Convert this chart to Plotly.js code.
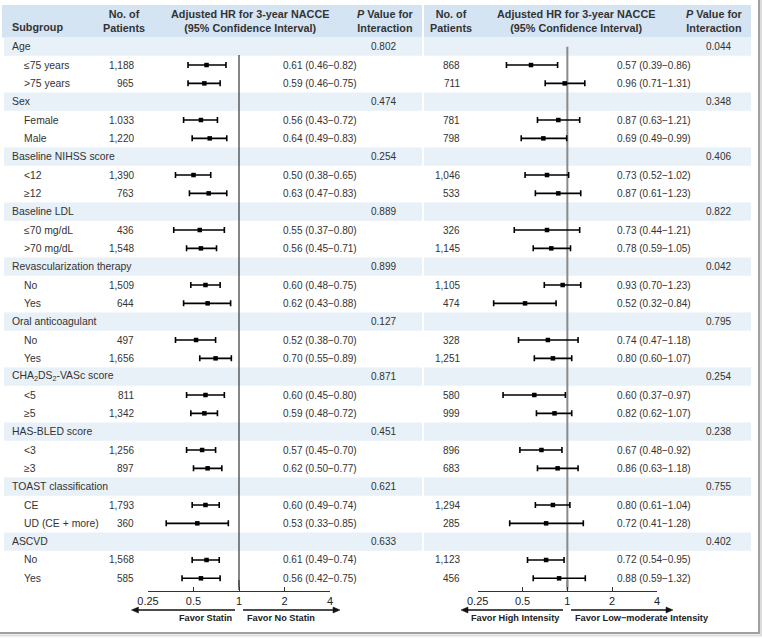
<!DOCTYPE html>
<html>
<head>
<meta charset="utf-8">
<script src="https://cdn.plot.ly/plotly-3.0.1.min.js"></script>
<style>html,body{margin:0;padding:0;background:#fff;}#chart{width:762px;height:639px;}</style>
</head>
<body>
<div id="chart"></div>
<script>
// ---------- DATA ----------
const groups = ["Age","Sex","Baseline NIHSS score","Baseline LDL","Revascularization therapy","Oral anticoagulant","CHA<sub>2</sub>DS<sub>2</sub>-VASc score","HAS-BLED score","TOAST classification","ASCVD"];
const subgroups = [["≤75 years",">75 years"],["Female","Male"],["<12","≥12"],["≤70 mg/dL",">70 mg/dL"],["No","Yes"],["No","Yes"],["<5","≥5"],["<3","≥3"],["CE","UD (CE + more)"],["No","Yes"]];

// Statin vs No Statin
const nStatin  = ["1,188","965","1.033","1,220","1,390","763","436","1,548","1,509","644","497","1,656","811","1,342","1,256","897","1,793","360","1,568","585"];
const hrStatin = [0.61,0.59,0.56,0.64,0.50,0.63,0.55,0.56,0.60,0.62,0.52,0.70,0.60,0.59,0.57,0.62,0.60,0.53,0.61,0.56];
const loStatin = [0.46,0.46,0.43,0.49,0.38,0.47,0.37,0.45,0.48,0.43,0.38,0.55,0.45,0.48,0.45,0.50,0.49,0.33,0.49,0.42];
const hiStatin = [0.82,0.75,0.72,0.83,0.65,0.83,0.80,0.71,0.75,0.88,0.70,0.89,0.80,0.72,0.70,0.77,0.74,0.85,0.74,0.75];
const pStatin  = ["0.802","0.474","0.254","0.889","0.899","0.127","0.871","0.451","0.621","0.633"];

// High vs Low-moderate intensity
const nInt  = ["868","711","781","798","1,046","533","326","1,145","1,105","474","328","1,251","580","999","896","683","1,294","285","1,123","456"];
const hrInt = [0.57,0.96,0.87,0.69,0.73,0.87,0.73,0.78,0.93,0.52,0.74,0.80,0.60,0.82,0.67,0.86,0.80,0.72,0.72,0.88];
const loInt = [0.39,0.71,0.63,0.49,0.52,0.61,0.44,0.59,0.70,0.32,0.47,0.60,0.37,0.62,0.48,0.63,0.61,0.41,0.54,0.59];
const hiInt = [0.86,1.31,1.21,0.99,1.02,1.23,1.21,1.05,1.23,0.84,1.18,1.07,0.97,1.07,0.92,1.18,1.04,1.28,0.95,1.32];
const pInt  = ["0.044","0.348","0.406","0.822","0.042","0.795","0.254","0.238","0.755","0.402"];

const tickVals = [0.25,0.5,1,2,4];
const tickText = ["0.25","0.5","1","2","4"];

// ---------- LAYOUT HELPERS ----------
const W = 762, H = 639;
const px = x => x / W;
const py = y => 1 - y / H;
const FONT = "Liberation Sans, Arial, Helvetica, sans-serif";
const TXT = "#333";
const LBL = 10.4, NUM = 10;

const subRows = [];
groups.forEach((g, i) => { subRows.push(3*i+1, 3*i+2); });

function ciText(h, l, u) { return h.toFixed(2) + " (" + l.toFixed(2) + "−" + u.toFixed(2) + ")"; }

function forestTrace(hr, lo, hi, xa) {
  return {
    type: "scatter", mode: "markers", xaxis: xa, yaxis: "y",
    x: hr, y: subRows,
    marker: {symbol: "square", size: 4.5, color: "#000"},
    error_x: {type: "data", symmetric: false,
      array: hr.map((v, i) => hi[i] - v),
      arrayminus: hr.map((v, i) => v - lo[i]),
      color: "#000", thickness: 1.6, width: 3},
    hoverinfo: "skip", cliponaxis: false
  };
}

const annotations = [];
function ann(text, x, y, xanchor, size) {
  annotations.push({
    text: text, x: px(x), y: y, xref: "paper", yref: "y",
    xanchor: xanchor, yanchor: "middle", showarrow: false,
    font: {family: FONT, size: size, color: TXT}
  });
}

// table text
groups.forEach((g, i) => {
  ann(g, 10, 3*i, "left", LBL);
  ann(pStatin[i], 383.5, 3*i, "center", NUM);
  ann(pInt[i], 718.5, 3*i, "center", NUM);
  subgroups[i].forEach((s, j) => {
    const k = 2*i + j, r = 3*i + 1 + j;
    ann(s, 22, r, "left", LBL);
    ann(nStatin[k], 136, r, "right", NUM);
    ann(ciText(hrStatin[k], loStatin[k], hiStatin[k]), 359, r, "right", NUM);
    ann(nInt[k], 462, r, "right", NUM);
    ann(ciText(hrInt[k], loInt[k], hiInt[k]), 693, r, "right", NUM);
  });
});

// Headers
function hdr(text, x, y, xanchor) {
  annotations.push({text: "<b>" + text + "</b>", x: px(x), y: py(y), xref: "paper", yref: "paper",
    xanchor: xanchor, yanchor: "middle", showarrow: false, align: "center",
    font: {family: FONT, size: 10.8, color: TXT}});
}
hdr("Subgroup", 10, 27.5, "left");
hdr("No. of<br>Patients", 124.5, 21, "center");
hdr("Adjusted HR for 3-year NACCE<br>(95% Confidence Interval)", 250, 21, "center");
hdr("<i>P</i> Value for<br>Interaction", 386, 21, "center");
hdr("No. of<br>Patients", 451, 21, "center");
hdr("Adjusted HR for 3-year NACCE<br>(95% Confidence Interval)", 576, 21, "center");
hdr("<i>P</i> Value for<br>Interaction", 714, 21, "center");

// Favor labels
function fav(text, x, xanchor) {
  annotations.push({text: "<b>" + text + "</b>", x: px(x), y: py(618), xref: "paper", yref: "paper",
    xanchor: xanchor, yanchor: "middle", showarrow: false,
    font: {family: FONT, size: 9.2, color: "#222"}});
}
fav("Favor Statin", 234, "right");
fav("Favor No Statin", 245, "left");
fav("Favor High Intensity", 562, "right");
fav("Favor Low−moderate Intensity", 573, "left");

// ---------- SHAPES ----------
const shapes = [];
const HEAD = "#d4e4f3", BAND = "#e8f0f8";
shapes.push({type: "rect", xref: "paper", yref: "paper", x0: px(2), x1: px(422), y0: py(37.5), y1: py(5), fillcolor: HEAD, line: {width: 0}, layer: "below"});
shapes.push({type: "rect", xref: "paper", yref: "paper", x0: px(424), x1: px(751), y0: py(37.5), y1: py(5), fillcolor: HEAD, line: {width: 0}, layer: "below"});
groups.forEach((g, i) => {
  shapes.push({type: "rect", xref: "paper", yref: "y", x0: px(4), x1: px(422), y0: 3*i-0.5, y1: 3*i+0.5, fillcolor: BAND, line: {width: 0}, layer: "below"});
  shapes.push({type: "rect", xref: "paper", yref: "y", x0: px(424), x1: px(751), y0: 3*i-0.5, y1: 3*i+0.5, fillcolor: BAND, line: {width: 0}, layer: "below"});
});
const AXPOS = py(591);
shapes.push({type: "line", xref: "x", yref: "y", x0: 1, x1: 1, y0: 0.45, y1: 29.5, line: {color: "#444", width: 1.3}, layer: "below"});
shapes.push({type: "line", xref: "x", yref: "paper", x0: 1, x1: 1, y0: py(590), y1: py(580), line: {color: "#444", width: 1.3}, layer: "below"});
shapes.push({type: "line", xref: "x2", yref: "y", x0: 1, x1: 1, y0: 0, y1: 29.5, line: {color: "#8a8a8a", width: 2}, layer: "below"});
shapes.push({type: "line", xref: "x2", yref: "paper", x0: 1, x1: 1, y0: py(590), y1: py(580), line: {color: "#8a8a8a", width: 2}, layer: "below"});

function arrow(tail, head, y) {
  const dir = head < tail ? -1 : 1;
  const base = head - dir * 7;
  shapes.push({type: "line", xref: "paper", yref: "paper", x0: px(tail), x1: px(base), y0: py(y), y1: py(y), line: {color: "#111", width: 1.5}});
  shapes.push({type: "path", xref: "paper", yref: "paper",
    path: "M " + px(head) + " " + py(y) + " L " + px(base) + " " + py(y-3) + " L " + px(base) + " " + py(y+3) + " Z",
    fillcolor: "#111", line: {color: "#111", width: 0.5}});
}
arrow(235, 131.5, 610);
arrow(243, 340, 610);
arrow(563, 461, 610);
arrow(571, 673, 610);

shapes.push({type: "line", xref: "paper", yref: "paper", x0: px(759), x1: px(759), y0: py(0), y1: py(633), line: {color: "#a0a0a0", width: 2}});
shapes.push({type: "line", xref: "paper", yref: "paper", x0: px(0), x1: px(760), y0: py(633), y1: py(633), line: {color: "#a0a0a0", width: 2}});
shapes.push({type: "line", xref: "paper", yref: "paper", x0: px(0), x1: px(762), y0: py(635.5), y1: py(635.5), line: {color: "#dcdcdc", width: 2}});
shapes.push({type: "line", xref: "paper", yref: "paper", x0: px(761), x1: px(761), y0: py(0), y1: py(636), line: {color: "#dcdcdc", width: 2}});

function xAxis(x0, x1) {
  return {type: "log", domain: [px(x0), px(x1)], range: [Math.log10(0.25), Math.log10(4)],
    anchor: "free", position: AXPOS, tickmode: "array", tickvals: tickVals, ticktext: tickText,
    ticks: "inside", ticklen: 4, tickwidth: 1, tickcolor: "#333",
    showline: true, linecolor: "#333", linewidth: 1, showgrid: false, zeroline: false,
    tickfont: {family: FONT, size: 11, color: "#222"}, fixedrange: true};
}

const layout = {
  width: W, height: H, margin: {l: 0, r: 0, t: 0, b: 0},
  paper_bgcolor: "#fff", plot_bgcolor: "rgba(0,0,0,0)", showlegend: false,
  font: {family: FONT, color: TXT},
  xaxis: xAxis(148, 330),
  xaxis2: xAxis(477.7, 657),
  yaxis: {range: [32.31, -2.548], domain: [0, 1], visible: false, anchor: "x", fixedrange: true},
  shapes: shapes, annotations: annotations
};

Plotly.newPlot("chart", [forestTrace(hrStatin, loStatin, hiStatin, "x"), forestTrace(hrInt, loInt, hiInt, "x2")], layout, {staticPlot: true, displayModeBar: false});
</script>
</body>
</html>
